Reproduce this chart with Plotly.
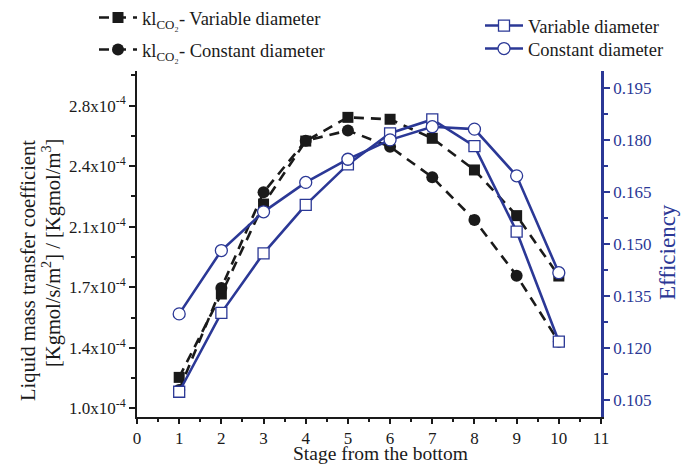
import plotly.graph_objects as go

stages = [1, 2, 3, 4, 5, 6, 7, 8, 9, 10]
kl_variable = [1.229e-4, 1.711e-4, 2.231e-4, 2.595e-4, 2.732e-4, 2.721e-4, 2.611e-4, 2.428e-4, 2.164e-4, 1.815e-4]
kl_constant = [1.156e-4, 1.746e-4, 2.299e-4, 2.597e-4, 2.656e-4, 2.562e-4, 2.386e-4, 2.139e-4, 1.817e-4, 1.435e-4]
eff_variable = [0.1073, 0.1301, 0.1473, 0.1613, 0.1730, 0.1820, 0.1860, 0.1783, 0.1536, 0.1218]
eff_constant = [0.1298, 0.1481, 0.1593, 0.1678, 0.1745, 0.1801, 0.1839, 0.1832, 0.1697, 0.1417]

left_tickvals = [1.05e-4, 1.40e-4, 1.75e-4, 2.10e-4, 2.45e-4, 2.80e-4]
left_ticktext = ["1.0x10<sup>-4</sup>", "1.4x10<sup>-4</sup>", "1.7x10<sup>-4</sup>",
                 "2.1x10<sup>-4</sup>", "2.4x10<sup>-4</sup>", "2.8x10<sup>-4</sup>"]
right_tickvals = [0.105, 0.120, 0.135, 0.150, 0.165, 0.180, 0.195]
right_ticktext = ["0.105", "0.120", "0.135", "0.150", "0.165", "0.180", "0.195"]
x_tickvals = list(range(0, 12))

BLUE = "#2b3896"
BLACK = "#1a1a1a"
FONT = "Liberation Serif"

W, H = 694, 465
ML, MR, MT, MB = 137, 93, 71, 48
PW, PH = W - ML - MR, H - MT - MB


def px(xp):
    return (xp - ML) / PW


def py(yp):
    return (H - MB - yp) / PH


fig = go.Figure()

fig.add_trace(go.Scatter(
    x=stages, y=kl_variable, name="kl<sub>CO₂</sub>- Variable diameter",
    mode="lines+markers", yaxis="y", legend="legend2",
    line=dict(color=BLACK, width=2.6, dash="10px,7px"),
    marker=dict(symbol="square", size=11, color=BLACK)))
fig.add_trace(go.Scatter(
    x=stages, y=kl_constant, name="kl<sub>CO₂</sub>- Constant diameter",
    mode="lines+markers", yaxis="y", legend="legend3",
    line=dict(color=BLACK, width=2.6, dash="10px,7px"),
    marker=dict(symbol="circle", size=12, color=BLACK)))
fig.add_trace(go.Scatter(
    x=stages, y=eff_variable, name="Variable diameter",
    mode="lines+markers", yaxis="y2", legend="legend4",
    line=dict(color=BLUE, width=2.6),
    marker=dict(symbol="square", size=11, color="white", line=dict(color=BLUE, width=1.3))))
fig.add_trace(go.Scatter(
    x=stages, y=eff_constant, name="Constant diameter",
    mode="lines+markers", yaxis="y2", legend="legend5",
    line=dict(color=BLUE, width=2.6),
    marker=dict(symbol="circle", size=12, color="white", line=dict(color=BLUE, width=1.3))))


def leg(xp, center):
    return dict(x=px(xp), y=py(center), xanchor="left", yanchor="middle",
                bgcolor="rgba(0,0,0,0)", font=dict(size=18.5, color=BLACK),
                tracegroupgap=0, itemwidth=38)


fig.update_layout(
    width=W, height=H,
    margin=dict(l=ML, r=MR, t=MT, b=MB, autoexpand=False),
    paper_bgcolor="white", plot_bgcolor="white",
    font=dict(family=FONT, size=18, color=BLACK),
    showlegend=True,
    xaxis=dict(
        range=[0, 11], tickmode="array", tickvals=x_tickvals,
        showgrid=False, zeroline=False, showline=True, linecolor=BLACK, linewidth=2,
        ticks="outside", ticklen=5, tickwidth=2, tickcolor=BLACK,
        minor=dict(ticks="outside", ticklen=3, tickwidth=2, tickcolor=BLACK, dtick=0.5, tick0=0),
        tickfont=dict(size=17),
    ),
    yaxis=dict(
        range=[1.0e-4, 3.0e-4], tickmode="array", tickvals=left_tickvals, ticktext=left_ticktext,
        showgrid=False, zeroline=False, showline=True, linecolor=BLACK, linewidth=2,
        ticks="outside", ticklen=6, tickwidth=2, tickcolor=BLACK,
        minor=dict(ticks="outside", ticklen=4, tickwidth=2, tickcolor=BLACK, tick0=1.05e-4, dtick=0.175e-4),
        tickfont=dict(size=17),
    ),
    yaxis2=dict(
        range=[0.100, 0.200], overlaying="y", side="right", anchor="x",
        tickmode="array", tickvals=right_tickvals, ticktext=right_ticktext,
        showgrid=False, zeroline=False, showline=True, linecolor=BLUE, linewidth=2.5,
        ticks="outside", ticklen=6, tickwidth=2, tickcolor=BLUE,
        minor=dict(ticks="outside", ticklen=4, tickwidth=2, tickcolor=BLUE, tick0=0.105, dtick=0.0075),
        tickfont=dict(size=17, color=BLUE),
    ),
    legend2=leg(94, 18),
    legend3=leg(94, 50),
    legend4=leg(480, 26),
    legend5=leg(480, 49),
    annotations=[
        dict(text="Liquid mass transfer coefficient", xref="paper", yref="paper",
             x=px(28), y=py(271), xanchor="center", yanchor="middle", textangle=-90,
             showarrow=False, font=dict(size=20.5, color=BLACK)),
        dict(text="[Kgmol/s/m<sup>2</sup>] / [Kgmol/m<sup>3</sup>]", xref="paper", yref="paper",
             x=px(51), y=py(253), xanchor="center", yanchor="middle", textangle=-90,
             showarrow=False, font=dict(size=20.5, color=BLACK)),
        dict(text="Efficiency", xref="paper", yref="paper",
             x=px(667), y=py(252), xanchor="center", yanchor="middle", textangle=-90,
             showarrow=False, font=dict(size=23, color=BLUE)),
        dict(text="Stage from the bottom", xref="paper", yref="paper",
             x=px(380), y=py(465), xanchor="center", yanchor="bottom",
             showarrow=False, font=dict(size=19.5, color=BLACK), borderpad=0),
    ],
)

fig.write_html("out.html")
